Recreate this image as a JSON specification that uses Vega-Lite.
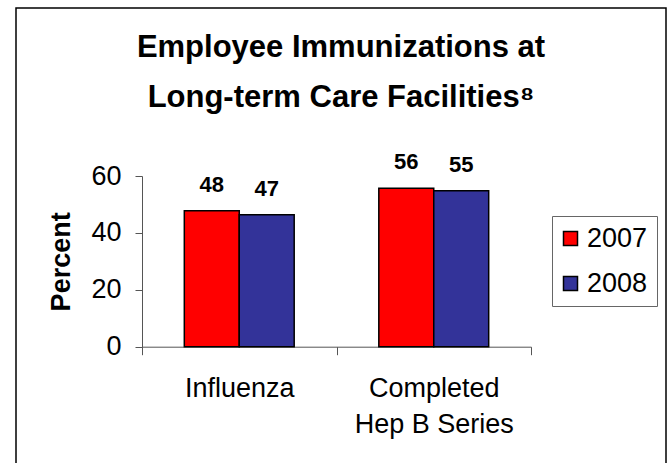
{
  "$schema": "https://vega.github.io/schema/vega-lite/v6.json",
  "width": 650,
  "height": 457,
  "autosize": {"type": "none"},
  "padding": {"left": 16, "top": 8, "right": 2, "bottom": 0},
  "background": "white",
  "title": {
    "text": ["Employee Immunizations at", "Long-term Care Facilities⁸"],
    "font": "Liberation Sans",
    "fontSize": 31,
    "fontWeight": "bold",
    "color": "black",
    "anchor": "middle",
    "frame": "group",
    "baseline": "alphabetic",
    "offset": -130,
    "lineHeight": 50
  },
  "data": {
    "values": [
      {"category": "Influenza", "year": "2007", "value": 47.8, "label": "48"},
      {"category": "Influenza", "year": "2008", "value": 46.4, "label": "47"},
      {"category": "Completed Hep B Series", "year": "2007", "value": 55.7, "label": "56"},
      {"category": "Completed Hep B Series", "year": "2008", "value": 54.8, "label": "55"}
    ]
  },
  "encoding": {
    "x": {
      "field": "category",
      "type": "nominal",
      "sort": ["Influenza", "Completed Hep B Series"],
      "title": null,
      "scale": {"range": [126, 515], "paddingInner": 0, "paddingOuter": 0},
      "axis": {
        "orient": "bottom",
        "offset": -118.3,
        "labelAngle": 0,
        "labelExpr": "datum.value == 'Completed Hep B Series' ? ['Completed', 'Hep B Series'] : datum.value",
        "labelFont": "Liberation Sans",
        "labelFontSize": 27,
        "labelLineHeight": 36,
        "labelColor": "black",
        "labelPadding": 20.7,
        "labelLimit": 400,
        "tickBand": "extent",
        "tickSize": 8,
        "tickColor": "#555",
        "domainColor": "#555",
        "domainWidth": 1,
        "tickWidth": 1,
        "grid": false
      }
    },
    "xOffset": {
      "field": "year",
      "type": "nominal",
      "scale": {"paddingInner": 0, "paddingOuter": 0.77}
    }
  },
  "layer": [
    {
      "mark": {"type": "bar", "stroke": "black", "strokeWidth": 1.5},
      "encoding": {
        "y": {
          "field": "value",
          "type": "quantitative",
          "scale": {"domain": [0, 60], "range": [338.7, 168], "nice": false, "zero": true},
          "axis": {
            "orient": "left",
            "offset": -126,
            "values": [0, 20, 40, 60],
            "tickSize": 7,
            "labelPadding": 14,
            "labelFont": "Liberation Sans",
            "labelFontSize": 27,
            "labelColor": "black",
            "labelFlush": false,
            "title": "Percent",
            "titleFont": "Liberation Sans",
            "titleFontSize": 27,
            "titleFontWeight": "bold",
            "titleColor": "black",
            "titlePadding": 15,
            "grid": false,
            "domainColor": "#555",
            "tickColor": "#555"
          }
        },
        "y2": {"datum": 0},
        "color": {
          "field": "year",
          "type": "nominal",
          "scale": {"domain": ["2007", "2008"], "range": ["#FF0000", "#333399"]},
          "legend": {
            "orient": "none",
            "legendX": 536,
            "legendY": 208,
            "title": null,
            "strokeColor": "#666",
            "fillColor": "white",
            "padding": 9,
            "labelFont": "Liberation Sans",
            "labelFontSize": 27,
            "labelColor": "black",
            "labelOffset": 3,
            "symbolOffset": -4,
            "symbolType": "square",
            "symbolSize": 196,
            "symbolStrokeColor": "black",
            "symbolStrokeWidth": 1.5,
            "rowPadding": 17
          }
        }
      }
    },
    {
      "mark": {
        "type": "text",
        "font": "Liberation Sans",
        "fontSize": 22,
        "fontWeight": "bold",
        "color": "black",
        "baseline": "alphabetic",
        "dy": -19
      },
      "encoding": {
        "y": {"field": "value", "type": "quantitative"},
        "text": {"field": "label", "type": "nominal"}
      }
    }
  ],
  "config": {
    "view": {"stroke": "black", "strokeWidth": 1.5}
  }
}
